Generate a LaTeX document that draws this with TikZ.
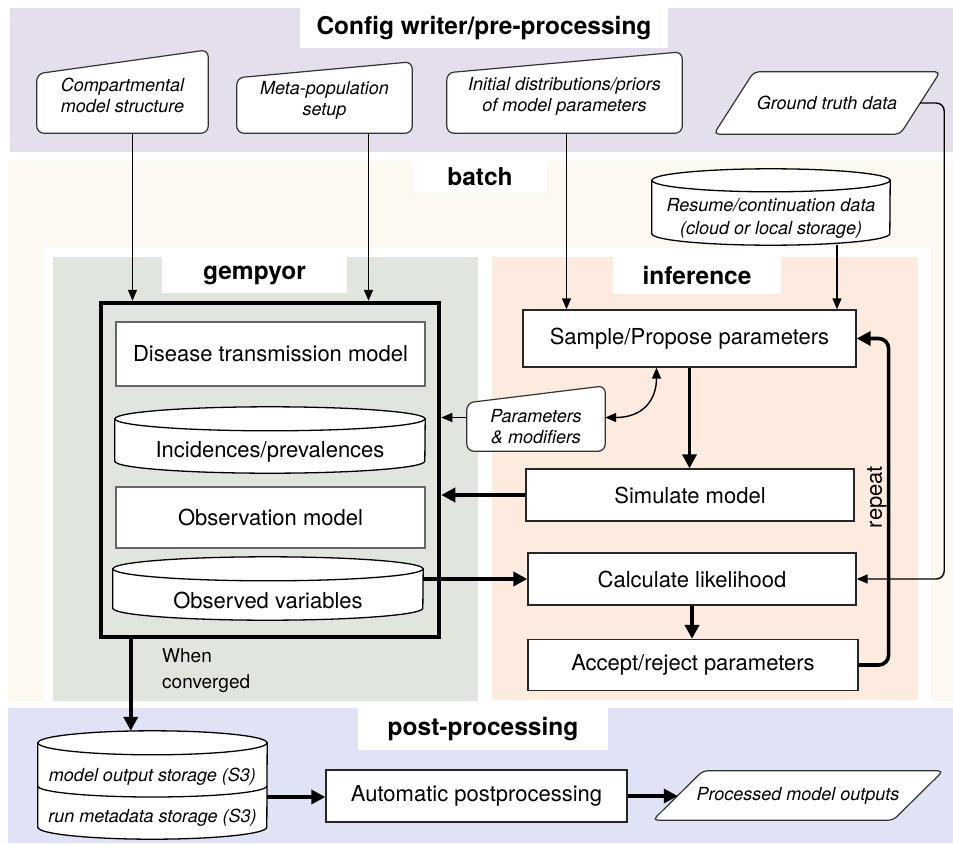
\documentclass[tikz,border=0pt]{standalone}
\usepackage{fontspec}
\setmainfont{TeX Gyre Heros}
\usetikzlibrary{arrows.meta,calc}
\pgfdeclarelayer{bands}
\pgfdeclarelayer{shapes}
\pgfsetlayers{bands,shapes,main}
\definecolor{cfgcol}{RGB}{229,222,236}
\definecolor{batchcol}{RGB}{253,248,240}
\definecolor{gemcol}{RGB}{224,230,222}
\definecolor{infcol}{RGB}{253,235,224}
\definecolor{postcol}{RGB}{223,227,245}
\newcommand{\boxfont}{\fontsize{22}{26}\selectfont}
\tikzstyle{bandtitle}=[fill=white,inner sep=0pt,font=\bfseries\fontsize{24.5}{28}\selectfont]
\tikzstyle{procbox}=[draw=black!85,fill=white,line width=1.3pt,inner sep=0pt,minimum width=328pt,minimum height=52pt,font=\boxfont]
\tikzstyle{modelbox}=[draw=black!60,fill=white,line width=1.3pt,inner sep=0pt,minimum width=309pt,font=\boxfont]
\tikzstyle{cyltext}=[inner sep=0pt,minimum width=310pt,font=\boxfont]
\tikzstyle{intext}=[inner sep=0pt,align=center,font=\itshape\fontsize{18}{21}\selectfont]
\tikzstyle{inshape}=[draw=black!80,fill=white,line width=1.2pt,rounded corners=7pt]
\tikzstyle{cylshape}=[draw=black,fill=white,line width=1.3pt]
\tikzstyle{thinarrow}=[-{Triangle[length=11pt,width=9pt]},line width=1.4pt]
\tikzstyle{dblarrow}=[{Triangle[length=11pt,width=9pt]}-{Triangle[length=11pt,width=9pt]},line width=1.4pt]
\tikzstyle{bigarrow}=[-{Triangle[length=14pt,width=14pt]},line width=3.6pt]
% outlines drawn under the text nodes
\newcommand{\manualin}[3]{%
  \begin{pgfonlayer}{shapes}
  \draw[inshape] (#1.south west) -- (#1.south east) -- ([yshift=#2]#1.north east) -- ([yshift=-#3]#1.north west) -- cycle;
  \end{pgfonlayer}}
\newcommand{\paraout}[2]{%
  \begin{pgfonlayer}{shapes}
  \draw[inshape,rounded corners=5pt] ([xshift=-#2]#1.south west) -- ([xshift=-#2]#1.south east) -- ([xshift=#2]#1.north east) -- ([xshift=#2]#1.north west) -- cycle;
  \end{pgfonlayer}}
\newcommand{\cylout}[3]{%
  \begin{pgfonlayer}{shapes}
  \draw[cylshape] ([yshift=#3pt]#1.north west) -- ([yshift=#3pt]#1.south west) arc[start angle=180,end angle=0,x radius=#2,y radius=#3] -- ([yshift=#3pt]#1.north east) -- cycle;
  \draw[cylshape] ([yshift=#3pt]#1.north) ellipse[x radius=#2,y radius=#3];
  \end{pgfonlayer}}

\begin{document}
\begin{tikzpicture}[x=1pt,y=-1pt]
    \useasboundingbox (0,0) rectangle (953,846);
    \begin{pgfonlayer}{bands}
    \fill[cfgcol] (10,8) rectangle (953,152);
    \fill[batchcol] (8,161) rectangle (953,701);
    \fill[white] (44,248) rectangle (931,708);
    \fill[gemcol] (53,257) rectangle (478,701);
    \fill[infcol] (492,257) rectangle (918,700);
    \fill[postcol] (8,708) rectangle (953,843);
    \end{pgfonlayer}
    \node[bandtitle,minimum width=368pt,minimum height=40pt] (cfgtitle) at (484,28) {Config writer/pre-processing};
    \node[bandtitle,minimum width=134pt,minimum height=32pt] (batchtitle) at (480,177) {batch};
    \node[bandtitle,minimum width=185pt,minimum height=36pt] (gemtitle) at (254.5,275) {gempyor};
    \node[bandtitle,minimum width=168pt,minimum height=37pt] (inftitle) at (697,275.5) {inference};
    \node[bandtitle,minimum width=250pt,minimum height=42pt] (posttitle) at (483,729) {post-processing};

    % config inputs
    \node[intext,minimum width=171pt,minimum height=75pt] (cms) at (122.5,95.5) {Compartmental\\model structure};
    \manualin{cms}{8pt}{16pt}
    \node[intext,minimum width=175pt,minimum height=66pt] (mps) at (324.5,100) {Meta-population\\setup};
    \manualin{mps}{5pt}{11pt}
    \node[intext,minimum width=235pt,minimum height=74pt] (ipd) at (564.5,96) {Initial distributions/priors\\of model parameters};
    \manualin{ipd}{7pt}{14pt}
    \node[intext,minimum width=186pt,minimum height=62pt] (gtd) at (827,103) {Ground truth data};
    \paraout{gtd}{20pt}
    \node[intext,minimum width=238pt,minimum height=53pt,font=\itshape\fontsize{18}{23}\selectfont] (res) at (771,218.5) {Resume/continuation data\\(cloud or local storage)};
    \cylout{res}{119}{11.5}

    % gempyor
    \node[draw,line width=4.5pt,minimum width=338pt,minimum height=334pt] (gem) at (270,470) {};
    \node[modelbox,minimum height=64pt] (dtm) at (270.5,354) {Disease transmission model};
    \node[cyltext,minimum height=42pt] (inc) at (270,452) {Incidences/prevalences};
    \cylout{inc}{155}{12}
    \node[modelbox,minimum height=61pt] (obm) at (270.5,517.5) {Observation model};
    \node[cyltext,minimum height=39pt] (obv) at (268,600.5) {Observed variables};
    \cylout{obv}{155}{12}
    \node[font=\fontsize{19}{26}\selectfont,align=left,anchor=west,inner sep=0pt] (conv) at (162,671) {When\\converged};

    % inference
    \node[procbox,minimum width=333pt,minimum height=57pt] (smp) at (689.5,338.5) {Sample/Propose parameters};
    \node[intext,minimum width=138pt,minimum height=49pt] (par) at (536,426.5) {Parameters\\\& modifiers};
    \manualin{par}{16pt}{1pt}
    \node[procbox] (sim) at (690,495) {Simulate model};
    \node[procbox] (cal) at (692,579) {Calculate likelihood};
    \node[procbox,minimum width=330pt,minimum height=51pt] (acc) at (693,665) {Accept/reject parameters};
    \node[font=\boxfont,rotate=90,inner sep=0pt] (rep) at (877,497) {repeat};

    % post-processing
    \node[intext,minimum width=229pt,minimum height=84pt,font=\itshape\fontsize{18}{22}\selectfont] (sto) at (152.5,797) {model output storage (S3)\\[19pt]run metadata storage (S3)};
    \cylout{sto}{114.5}{12}
    \begin{pgfonlayer}{shapes}
    \draw[cylshape,fill=none] ([yshift=11pt]sto.west) arc[start angle=180,end angle=0,x radius=114.5,y radius=11];
    \end{pgfonlayer}
    \node[procbox,minimum width=301pt] (aut) at (476.5,796) {Automatic postprocessing};
    \node[intext,minimum width=240pt,minimum height=49pt] (pmo) at (798,795.5) {Processed model outputs};
    \paraout{pmo}{25pt}

    % connectors
    \coordinate (cmsout) at ($(cms.south)+(10,0)$);
    \draw[thinarrow] (cmsout) -- (cmsout |- gem.north);
    \coordinate (mpsout) at ($(mps.south)+(44,0)$);
    \draw[thinarrow] (mpsout) -- (mpsout |- gem.north);
    \coordinate (ipdout) at ($(ipd.south)+(2,0)$);
    \draw[thinarrow] (ipdout) -- (ipdout |- smp.north);
    \coordinate (resout) at ($(res.south)+(66,0)$);
    \draw[thinarrow] (resout) -- (resout |- smp.north);
    \draw[thinarrow,rounded corners=8pt] (gtd.east) -- ++(24,0) |- (cal.east);
    \draw[thinarrow] ([yshift=9pt]par.west) -- ([yshift=9pt]par.west -| gem.east);
    \coordinate (smpin) at ($(smp.south)+(-33,0)$);
    \draw[dblarrow] ([yshift=9pt]par.east) .. controls +(38,0) and +(0,32) .. (smpin);
    \draw[bigarrow] (smp.south) -- (smp.south |- sim.north);
    \draw[bigarrow] (sim.west) -- (sim.west -| gem.east);
    \draw[bigarrow] (cal.west -| obv.east) -- (cal.west);
    \draw[bigarrow] (cal.south) -- (cal.south |- acc.north);
    \draw[bigarrow,rounded corners=10pt] (acc.east) -- ++(30,0) |- (smp.east);
    \coordinate (gemout) at ($(gem.south west)+(32,0)$);
    \draw[bigarrow] (gemout) -- ($(gemout |- sto.north)+(0,-24)$);
    \draw[bigarrow] (sto.east) -- (sto.east -| aut.west);
    \draw[bigarrow] (aut.east) -- (aut.east -| pmo.west);
\end{tikzpicture}
\end{document}
